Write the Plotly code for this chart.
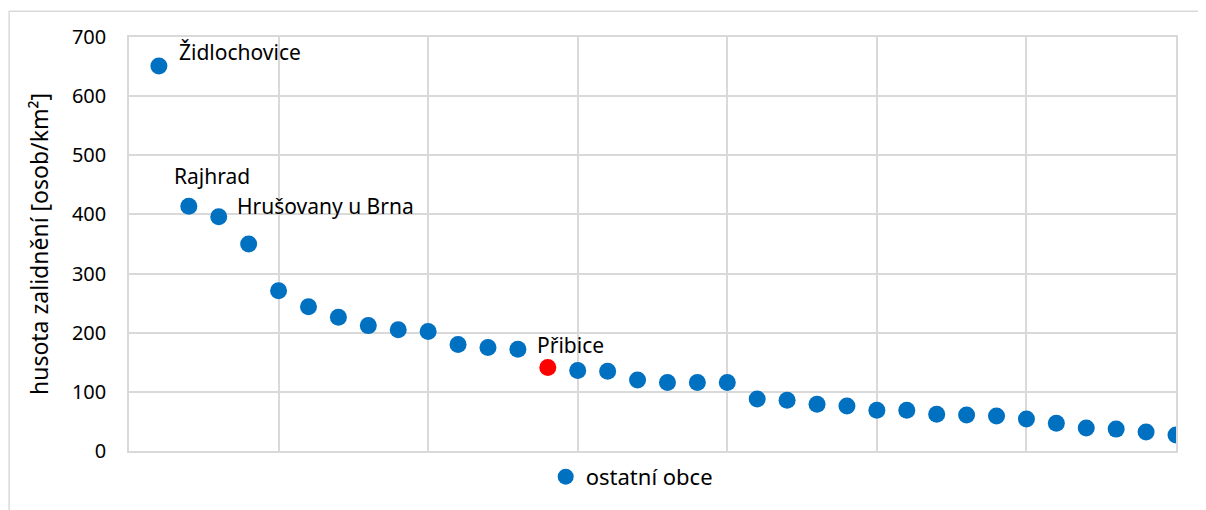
import plotly.graph_objects as go

# poradi obce (serazeno podle hustoty) a hustota zalidneni
poradi = list(range(1, 36))
hustota = [651, 414, 396, 350, 271, 244, 226, 212, 205, 202,
           180, 175, 172, 141, 136, 135, 120, 116, 116, 116,
           88, 86, 79, 76, 69, 69, 62, 61, 59, 54,
           47, 39, 37, 32, 27]

zvyraznena = 14  # Přibice

popisky = {1: "Židlochovice", 2: "Rajhrad", 3: "Hrušovany u Brna", 14: "Přibice"}
posuny = {1: (18, 14), 2: (-17, 30), 3: (16, 11), 14: (-13, 23)}

modra = "#0070C0"
cervena = "#FF0000"
mrizka = "#D9D9D9"
pismo = "Noto Sans"

ostatni_x = [x for x in poradi if x != zvyraznena]
ostatni_y = [y for x, y in zip(poradi, hustota) if x != zvyraznena]

fig = go.Figure()
fig.add_trace(go.Scatter(
    x=ostatni_x, y=ostatni_y, mode="markers", name="ostatní obce",
    marker=dict(size=17, color=modra),
))
fig.add_trace(go.Scatter(
    x=[zvyraznena], y=[hustota[zvyraznena - 1]], mode="markers", name="Přibice",
    marker=dict(size=17, color=cervena), showlegend=False,
))

for idx, text in popisky.items():
    dx, dy = posuny[idx]
    fig.add_annotation(
        x=idx, y=hustota[idx - 1], text=text, showarrow=False,
        xanchor="left", yanchor="middle", xshift=dx, yshift=dy,
        font=dict(family=pismo, size=21, color="#000000"),
    )

# ramecek celeho grafu
fig.add_shape(
    type="rect", xref="paper", yref="paper",
    x0=-0.1145, x1=1.2, y0=-0.5, y1=1.0625,
    line=dict(color=mrizka, width=1.5), layer="below",
)

# stranka ma okraj 8 px, proto je obrazek o 8 px mensi
fig.update_layout(
    width=1198,
    height=502,
    margin=dict(l=121, r=30, t=29, b=57),
    paper_bgcolor="white",
    plot_bgcolor="white",
    font=dict(family=pismo, size=20, color="#000000"),
    showlegend=True,
    legend=dict(
        orientation="h", x=0.398, xanchor="left", y=-0.0625, yanchor="middle",
        font=dict(size=22),
    ),
)

fig.update_xaxes(
    range=[0, 35], dtick=5, showticklabels=False, showgrid=True,
    gridcolor=mrizka, gridwidth=1.5, zeroline=False,
    showline=True, linecolor=mrizka, linewidth=1.5, mirror=True,
)
fig.update_yaxes(
    range=[0, 700], dtick=100, showgrid=True, gridcolor=mrizka, gridwidth=1.5,
    zeroline=False, showline=True, linecolor=mrizka, linewidth=1.5, mirror=True,
    ticks="", ticklabelstandoff=17,
    title=dict(text="husota zalidnění [osob/km²]", font=dict(size=23), standoff=17),
)

fig.write_html("out.html")
